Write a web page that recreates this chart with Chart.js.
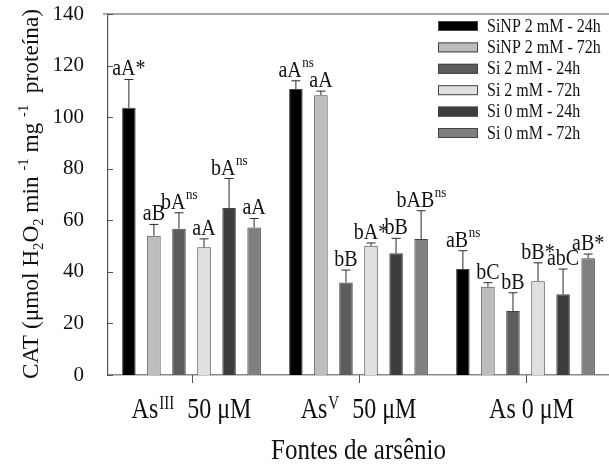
<!DOCTYPE html>
<html>
<head>
<meta charset="utf-8">
<script src="https://cdn.jsdelivr.net/npm/chart.js@4.4.1/dist/chart.umd.min.js"></script>
<style>
  html, body { margin: 0; padding: 0; background: #ffffff; }
  #wrap { width: 609px; height: 468px; }
</style>
</head>
<body>
<div id="wrap"><canvas id="c" width="609" height="468"></canvas></div>
<script>
// ---------------- data ----------------
const categories = ['AsIII 50 μM', 'AsV 50 μM', 'As 0 μM'];
// rich parts for category labels: [main, superscript, tail]
const categoryParts = [['As', 'III', '  50 μM'], ['As', 'V', '  50 μM'], ['As 0 μM', '', '']];
const yTicks = [0, 20, 40, 60, 80, 100, 120, 140];

const seriesNames = ['SiNP 2 mM - 24h', 'SiNP 2 mM - 72h', 'Si 2 mM - 24h', 'Si 2 mM - 72h', 'Si 0 mM - 24h', 'Si 0 mM - 72h'];

const sinp24 = [103.6, 110.9, 41.1];
const sinp72 = [54.0, 108.5, 34.2];
const si2_24 = [56.7, 35.9, 24.8];
const si2_72 = [49.5, 50.1, 36.4];
const si0_24 = [64.8, 47.2, 31.3];
const si0_72 = [57.2, 52.7, 45.3];

const sinp24Err = [11.0, 3.2, 7.1];
const sinp72Err = [4.4, 1.6, 1.6];
const si2_24Err = [6.2, 4.8, 7.1];
const si2_72Err = [3.3, 1.1, 7.1];
const si0_24Err = [11.4, 5.8, 9.8];
const si0_72Err = [3.5, 11.0, 1.6];

const sinp24Lab = ['aA*', 'aA^ns', 'aB^ns'];
const sinp72Lab = ['aB', 'aA', 'bC'];
const si2_24Lab = ['bA^ns', 'bB', 'bB'];
const si2_72Lab = ['aA', 'bA*', 'bB*'];
const si0_24Lab = ['bA^ns', 'bB', 'abC'];
const si0_72Lab = ['aA', 'bAB^ns', 'aB*'];

const seriesColors = ['#000000', '#bdbdbd', '#5c5c5c', '#e0e0e0', '#3d3d3d', '#7f7f7f'];

const values = [sinp24, sinp72, si2_24, si2_72, si0_24, si0_72];
const errs = [sinp24Err, sinp72Err, si2_24Err, si2_72Err, si0_24Err, si0_72Err];
const labs = [sinp24Lab, sinp72Lab, si2_24Lab, si2_72Lab, si0_24Lab, si0_72Lab];

const SERIF = "'Liberation Serif', 'Times New Roman', serif";
const VSTRETCH = 1.2;

function stretchedText(ctx, text, x, y, size, align) {
  ctx.save();
  ctx.font = size + 'px ' + SERIF;
  ctx.textAlign = align || 'left';
  ctx.textBaseline = 'alphabetic';
  ctx.translate(x, y);
  ctx.scale(1, VSTRETCH);
  ctx.fillText(text, 0, 0);
  ctx.restore();
}
function measure(ctx, text, size) {
  ctx.save();
  ctx.font = size + 'px ' + SERIF;
  const w = ctx.measureText(text).width;
  ctx.restore();
  return w;
}

const customPlugin = {
  id: 'customDraw',
  afterDatasetsDraw(chart) {
    const ctx = chart.ctx;
    const ys = chart.scales.y;
    ctx.save();
    values.forEach((arr, i) => {
      const meta = chart.getDatasetMeta(i);
      arr.forEach((v, j) => {
        const bar = meta.data[j];
        const x = bar.x;
        const yBar = ys.getPixelForValue(v);
        const yTop = ys.getPixelForValue(v + errs[i][j]);
        ctx.strokeStyle = '#2a2a2a';
        ctx.lineWidth = 1;
        ctx.beginPath();
        ctx.moveTo(x, yBar);
        ctx.lineTo(x, yTop);
        ctx.moveTo(x - 4.5, yTop);
        ctx.lineTo(x + 4.5, yTop);
        ctx.stroke();
        // annotation letters
        const raw = labs[i][j];
        let main = raw, sup = '';
        if (raw.indexOf('^') >= 0) { main = raw.split('^')[0]; sup = raw.split('^')[1]; }
        const mSize = 20, sSize = 13;
        const wm = measure(ctx, main, mSize);
        const ws = sup ? measure(ctx, sup, sSize) : 0;
        const start = x - (wm + ws) / 2;
        const base = yTop - 4;
        ctx.fillStyle = '#111';
        stretchedText(ctx, main, start, base, mSize, 'left');
        if (sup) stretchedText(ctx, sup, start + wm + 0.5, base - 10, sSize, 'left');
      });
    });
    ctx.restore();
  },
  afterDraw(chart) {
    const ctx = chart.ctx;
    const ca = chart.chartArea;
    const xs = chart.scales.x;
    const ys = chart.scales.y;
    ctx.save();
    // top frame line
    ctx.strokeStyle = '#8a8a8a';
    ctx.lineWidth = 1.5;
    ctx.beginPath();
    ctx.moveTo(ca.left - 5, ca.top);
    ctx.lineTo(chart.width, ca.top);
    ctx.stroke();
    // inward y ticks
    ctx.strokeStyle = '#555';
    ctx.lineWidth = 1;
    yTicks.forEach(v => {
      const py = Math.round(ys.getPixelForValue(v)) + 0.5;
      ctx.beginPath();
      ctx.moveTo(ca.left, py);
      ctx.lineTo(ca.left + 5, py);
      ctx.stroke();
    });
    // x tick marks below axis at category centres
    categories.forEach((c, k) => {
      const px = Math.round(xs.getPixelForValue(k)) + 0.5;
      ctx.beginPath();
      ctx.moveTo(px, ca.bottom);
      ctx.lineTo(px, ca.bottom + 8);
      ctx.stroke();
    });
    // category labels with superscripts
    ctx.fillStyle = '#111';
    categoryParts.forEach((p, k) => {
      const cx = xs.getPixelForValue(k) + (k === 2 ? 6 : 0);
      const s1 = 24, s2 = 15;
      const w0 = measure(ctx, p[0], s1);
      const w1 = p[1] ? measure(ctx, p[1], s2) + 2 : 0;
      const w2 = p[2] ? measure(ctx, p[2], s1) : 0;
      let x0 = cx - (w0 + w1 + w2) / 2;
      const base = 418;
      stretchedText(ctx, p[0], x0, base, s1, 'left');
      x0 += w0;
      if (p[1]) { stretchedText(ctx, p[1], x0 + 1, base - 9, s2, 'left'); x0 += w1; }
      if (p[2]) stretchedText(ctx, p[2], x0, base, s1, 'left');
    });
    // x axis title
    stretchedText(ctx, 'Fontes de arsênio', (ca.left + ca.right) / 2, 459, 25, 'center');

    // y axis title (rotated) with sub/superscripts
    const segs = [
      { t: 'CAT (μmol H', k: 0 }, { t: '2', k: 1 }, { t: 'O', k: 0 }, { t: '2', k: 1 },
      { t: ' min ', k: 0 }, { t: '-1', k: 2 }, { t: ' mg ', k: 0 }, { t: '-1', k: 2 },
      { t: '  proteína)', k: 0 }
    ];
    const ms = 24, ss = 15;
    let total = 0;
    segs.forEach(s => { s.w = measure(ctx, s.t, s.k ? ss : ms); total += s.w; });
    const targetLen = 370;
    const kx = targetLen / total;
    ctx.save();
    ctx.translate(38, 194);
    ctx.rotate(-Math.PI / 2);
    ctx.scale(kx, 1);
    let pos = -total / 2;
    ctx.textBaseline = 'alphabetic';
    ctx.fillStyle = '#111';
    segs.forEach(s => {
      ctx.font = (s.k ? ss : ms) + 'px ' + SERIF;
      const dy = s.k === 1 ? 5 : (s.k === 2 ? -10 : 0);
      ctx.fillText(s.t, pos, dy);
      pos += s.w;
    });
    ctx.restore();

    // legend
    seriesNames.forEach((name, i) => {
      const cy = 26 + i * 21.4;
      ctx.fillStyle = seriesColors[i];
      ctx.fillRect(438, cy - 5, 40, 10);
      ctx.strokeStyle = '#444';
      ctx.lineWidth = 1;
      ctx.strokeRect(438.5, cy - 4.5, 39, 9);
      ctx.fillStyle = '#111';
      stretchedText(ctx, name, 487, cy + 5.5, 16, 'left');
    });
    ctx.restore();
  }
};

const datasets = values.map((arr, i) => ({
  label: seriesNames[i],
  data: arr,
  backgroundColor: seriesColors[i],
  borderColor: '#444444',
  borderWidth: 1,
  categoryPercentage: 0.9,
  barPercentage: 0.54
}));

new Chart(document.getElementById('c'), {
  type: 'bar',
  data: { labels: categories, datasets: datasets },
  options: {
    responsive: false,
    devicePixelRatio: 1,
    animation: false,
    layout: { padding: { left: 0, right: 0, top: 14, bottom: 0 } },
    plugins: { legend: { display: false }, tooltip: { enabled: false } },
    scales: {
      x: {
        grid: { display: false, drawTicks: false },
        border: { display: true, color: '#8a8a8a', width: 1.5 },
        ticks: { display: false },
        afterFit: s => { s.height = 93; s.paddingLeft = 0; s.paddingRight = 0; }
      },
      y: {
        min: 0, max: 140,
        afterBuildTicks: s => { s.ticks = yTicks.map(v => ({ value: v })); },
        ticks: {
          font: { family: SERIF, size: 21 },
          color: '#111',
          padding: 24
        },
        grid: { display: false, drawTicks: false },
        border: { display: true, color: '#555', width: 1.2 },
        afterFit: s => { s.width = 108; s.paddingTop = 0; s.paddingBottom = 0; }
      }
    }
  },
  plugins: [customPlugin]
});
</script>
</body>
</html>
